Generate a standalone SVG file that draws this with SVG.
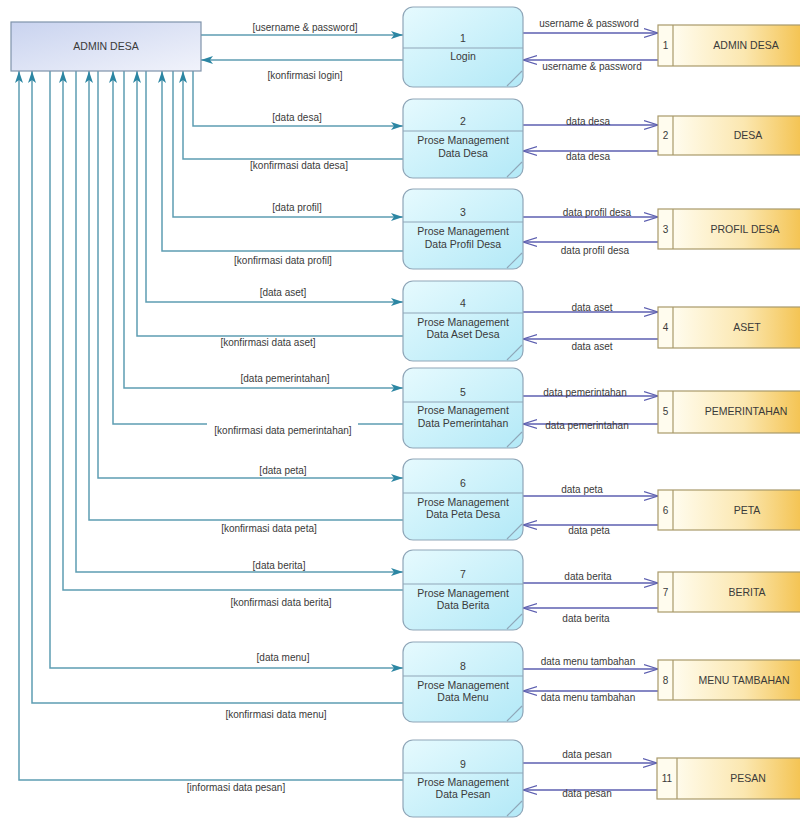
<svg xmlns="http://www.w3.org/2000/svg" width="800" height="818" viewBox="0 0 800 818">
<defs>
<linearGradient id="gAdmin" x1="0" y1="0" x2="1" y2="1">
<stop offset="0" stop-color="#c9d3ef"/>
<stop offset="1" stop-color="#f1f3fb"/>
</linearGradient>
<linearGradient id="gProc" x1="0" y1="0" x2="1" y2="1">
<stop offset="0" stop-color="#e6fafe"/>
<stop offset="1" stop-color="#b3e9f7"/>
</linearGradient>
<linearGradient id="gStore" gradientUnits="userSpaceOnUse" x1="673" y1="0" x2="815" y2="0">
<stop offset="0" stop-color="#fffcee"/>
<stop offset="0.5" stop-color="#fbe7b0"/>
<stop offset="1" stop-color="#f2bb3c"/>
</linearGradient>
<marker id="aT" markerUnits="userSpaceOnUse" markerWidth="14" markerHeight="10" refX="12" refY="5" orient="auto">
<path d="M0,1 L12,5 L0,9 L3,5 Z" fill="#2c86a3"/>
</marker>
<marker id="aP" markerUnits="userSpaceOnUse" markerWidth="16" markerHeight="12" refX="14" refY="6" orient="auto">
<path d="M0,1.5 L14,6 L0,10.5" fill="none" stroke="#5d5fb0" stroke-width="1.3"/>
</marker>
</defs>
<style>
text{font-family:"Liberation Sans",Arial,sans-serif;fill:#3a3a3a;}
.lbl{font-size:10px;text-anchor:middle;}
.pt{font-size:10.5px;text-anchor:middle;}
.st{font-size:10.5px;text-anchor:middle;}
.sn{font-size:10px;text-anchor:middle;}
.proc{fill:url(#gProc);stroke:#8fa6b8;stroke-width:1.2;}
.div{stroke:#8fa6b8;stroke-width:1.2;}
.store{fill:url(#gStore);stroke:#a8996a;stroke-width:1.2;}
.tl{fill:none;stroke:#5e9db2;stroke-width:1.5;}
.pl{fill:none;stroke:#5d5fb0;stroke-width:1.5;}
</style>
<rect width="800" height="818" fill="#ffffff"/>

<g id="connectors">
<!-- admin <-> processes -->
<path class="tl" d="M201,35 H403" marker-end="url(#aT)"/>
<path class="tl" d="M403,60 H201" marker-end="url(#aT)"/>
<path class="tl" d="M193,71 V126 H403" marker-end="url(#aT)"/>
<path class="tl" d="M403,159 H183 V71" marker-end="url(#aT)"/>
<path class="tl" d="M173,71 V217 H403" marker-end="url(#aT)"/>
<path class="tl" d="M403,251 H162 V71" marker-end="url(#aT)"/>
<path class="tl" d="M146,71 V302 H403" marker-end="url(#aT)"/>
<path class="tl" d="M403,336 H137 V71" marker-end="url(#aT)"/>
<path class="tl" d="M124,71 V388 H403" marker-end="url(#aT)"/>
<path class="tl" d="M403,424 H113 V71" marker-end="url(#aT)"/>
<path class="tl" d="M98,71 V478 H403" marker-end="url(#aT)"/>
<path class="tl" d="M403,520 H89 V71" marker-end="url(#aT)"/>
<path class="tl" d="M76,71 V572 H403" marker-end="url(#aT)"/>
<path class="tl" d="M403,590 H63 V71" marker-end="url(#aT)"/>
<path class="tl" d="M50,71 V668 H403" marker-end="url(#aT)"/>
<path class="tl" d="M403,703 H32 V71" marker-end="url(#aT)"/>
<path class="tl" d="M403,780 H19 V71" marker-end="url(#aT)"/>
<!-- processes <-> stores -->
<path class="pl" d="M523,33 H658" marker-end="url(#aP)"/>
<path class="pl" d="M658,60 H523" marker-end="url(#aP)"/>
<path class="pl" d="M523,125 H658" marker-end="url(#aP)"/>
<path class="pl" d="M658,151 H523" marker-end="url(#aP)"/>
<path class="pl" d="M523,217 H658" marker-end="url(#aP)"/>
<path class="pl" d="M658,242 H523" marker-end="url(#aP)"/>
<path class="pl" d="M523,312 H658" marker-end="url(#aP)"/>
<path class="pl" d="M658,339 H523" marker-end="url(#aP)"/>
<path class="pl" d="M523,396 H658" marker-end="url(#aP)"/>
<path class="pl" d="M658,424 H523" marker-end="url(#aP)"/>
<path class="pl" d="M523,496 H658" marker-end="url(#aP)"/>
<path class="pl" d="M658,525 H523" marker-end="url(#aP)"/>
<path class="pl" d="M523,583 H658" marker-end="url(#aP)"/>
<path class="pl" d="M658,608 H523" marker-end="url(#aP)"/>
<path class="pl" d="M523,669 H658" marker-end="url(#aP)"/>
<path class="pl" d="M658,691 H523" marker-end="url(#aP)"/>
<path class="pl" d="M523,763 H657" marker-end="url(#aP)"/>
<path class="pl" d="M657,790 H523" marker-end="url(#aP)"/>

<!-- labels admin side -->
<text class="lbl" x="305" y="31">[username &amp; password]</text>
<text class="lbl" x="305" y="79">[konfirmasi login]</text>
<text class="lbl" x="297" y="121">[data desa]</text>
<text class="lbl" x="299" y="169">[konfirmasi data desa]</text>
<text class="lbl" x="297" y="211">[data profil]</text>
<text class="lbl" x="283" y="264">[konfirmasi data profil]</text>
<text class="lbl" x="283" y="296">[data aset]</text>
<text class="lbl" x="268" y="346">[konfirmasi data aset]</text>
<text class="lbl" x="285" y="382">[data pemerintahan]</text>
<rect x="207" y="422" width="151" height="16" fill="#ffffff"/>
<text class="lbl" x="283" y="434">[konfirmasi data pemerintahan]</text>
<text class="lbl" x="283" y="474">[data peta]</text>
<text class="lbl" x="269" y="532">[konfirmasi data peta]</text>
<text class="lbl" x="279" y="569">[data berita]</text>
<text class="lbl" x="281" y="606">[konfirmasi data berita]</text>
<text class="lbl" x="283" y="661">[data menu]</text>
<text class="lbl" x="276" y="718">[konfirmasi data menu]</text>
<text class="lbl" x="236" y="791">[informasi data pesan]</text>

<!-- labels store side -->
<text class="lbl" x="589" y="27">username &amp; password</text>
<text class="lbl" x="592" y="70">username &amp; password</text>
<text class="lbl" x="588" y="125">data desa</text>
<text class="lbl" x="588" y="160">data desa</text>
<text class="lbl" x="597" y="216">data profil desa</text>
<text class="lbl" x="595" y="254">data profil desa</text>
<text class="lbl" x="592" y="311">data aset</text>
<text class="lbl" x="592" y="350">data aset</text>
<text class="lbl" x="585" y="396">data pemerintahan</text>
<text class="lbl" x="587" y="429">data pemerintahan</text>
<text class="lbl" x="582" y="493">data peta</text>
<text class="lbl" x="589" y="534">data peta</text>
<text class="lbl" x="588" y="580">data berita</text>
<text class="lbl" x="586" y="622">data berita</text>
<text class="lbl" x="588" y="665">data menu tambahan</text>
<text class="lbl" x="588" y="701">data menu tambahan</text>
<text class="lbl" x="587" y="758">data pesan</text>
<text class="lbl" x="587" y="797">data pesan</text>
</g>

<g id="admin-desa">
<rect x="11" y="22" width="190" height="49" fill="url(#gAdmin)" stroke="#7f93ab" stroke-width="1.2"/>
<text class="pt" x="106" y="50">ADMIN DESA</text>
</g>

<g id="p1">
<rect class="proc" x="403" y="7" width="120" height="80" rx="10"/>
<line class="div" x1="403" y1="48" x2="523" y2="48"/>
<line class="div" x1="507" y1="86" x2="522" y2="71"/>
<text class="pt" x="463" y="42">1</text>
<text class="pt" x="463" y="60">Login</text>
</g>
<g id="p2">
<rect class="proc" x="403" y="99" width="120" height="79" rx="10"/>
<line class="div" x1="403" y1="131" x2="523" y2="131"/>
<line class="div" x1="507" y1="177" x2="522" y2="162"/>
<text class="pt" x="463" y="125">2</text>
<text class="pt" x="463" y="144">Prose Management</text>
<text class="pt" x="463" y="157">Data Desa</text>
</g>
<g id="p3">
<rect class="proc" x="403" y="189" width="120" height="80" rx="10"/>
<line class="div" x1="403" y1="222" x2="523" y2="222"/>
<line class="div" x1="507" y1="268" x2="522" y2="253"/>
<text class="pt" x="463" y="216">3</text>
<text class="pt" x="463" y="235">Prose Management</text>
<text class="pt" x="463" y="248">Data Profil Desa</text>
</g>
<g id="p4">
<rect class="proc" x="403" y="281" width="120" height="80" rx="10"/>
<line class="div" x1="403" y1="313" x2="523" y2="313"/>
<line class="div" x1="507" y1="360" x2="522" y2="345"/>
<text class="pt" x="463" y="307">4</text>
<text class="pt" x="463" y="326">Prose Management</text>
<text class="pt" x="463" y="338">Data Aset Desa</text>
</g>
<g id="p5">
<rect class="proc" x="403" y="368" width="120" height="80" rx="10"/>
<line class="div" x1="403" y1="402" x2="523" y2="402"/>
<line class="div" x1="507" y1="447" x2="522" y2="432"/>
<text class="pt" x="463" y="396">5</text>
<text class="pt" x="463" y="414">Prose Management</text>
<text class="pt" x="463" y="427">Data Pemerintahan</text>
</g>
<g id="p6">
<rect class="proc" x="403" y="459" width="120" height="81" rx="10"/>
<line class="div" x1="403" y1="493" x2="523" y2="493"/>
<line class="div" x1="507" y1="539" x2="522" y2="524"/>
<text class="pt" x="463" y="487">6</text>
<text class="pt" x="463" y="506">Prose Management</text>
<text class="pt" x="463" y="518">Data Peta Desa</text>
</g>
<g id="p7">
<rect class="proc" x="403" y="550" width="120" height="80" rx="10"/>
<line class="div" x1="403" y1="584" x2="523" y2="584"/>
<line class="div" x1="507" y1="629" x2="522" y2="614"/>
<text class="pt" x="463" y="578">7</text>
<text class="pt" x="463" y="597">Prose Management</text>
<text class="pt" x="463" y="609">Data Berita</text>
</g>
<g id="p8">
<rect class="proc" x="403" y="642" width="120" height="80" rx="10"/>
<line class="div" x1="403" y1="676" x2="523" y2="676"/>
<line class="div" x1="507" y1="721" x2="522" y2="706"/>
<text class="pt" x="463" y="670">8</text>
<text class="pt" x="463" y="689">Prose Management</text>
<text class="pt" x="463" y="701">Data Menu</text>
</g>
<g id="p9">
<rect class="proc" x="403" y="740" width="120" height="77" rx="10"/>
<line class="div" x1="403" y1="773" x2="523" y2="773"/>
<line class="div" x1="507" y1="816" x2="522" y2="801"/>
<text class="pt" x="463" y="768">9</text>
<text class="pt" x="463" y="786">Prose Management</text>
<text class="pt" x="463" y="798">Data Pesan</text>
</g>

<g id="s1">
<rect class="store" x="658" y="25" width="172" height="41"/>
<line class="div" x1="673" y1="25" x2="673" y2="66" style="stroke:#a8996a"/>
<text class="sn" x="665.5" y="49">1</text>
<text class="st" x="746" y="49">ADMIN DESA</text>
</g>
<g id="s2">
<rect class="store" x="658" y="116" width="172" height="39"/>
<line class="div" x1="673" y1="116" x2="673" y2="155" style="stroke:#a8996a"/>
<text class="sn" x="665.5" y="139">2</text>
<text class="st" x="748" y="139">DESA</text>
</g>
<g id="s3">
<rect class="store" x="658" y="209" width="172" height="40"/>
<line class="div" x1="673" y1="209" x2="673" y2="249" style="stroke:#a8996a"/>
<text class="sn" x="665.5" y="233">3</text>
<text class="st" x="745" y="233">PROFIL DESA</text>
</g>
<g id="s4">
<rect class="store" x="658" y="307" width="172" height="41"/>
<line class="div" x1="673" y1="307" x2="673" y2="348" style="stroke:#a8996a"/>
<text class="sn" x="665.5" y="331">4</text>
<text class="st" x="747" y="331">ASET</text>
</g>
<g id="s5">
<rect class="store" x="658" y="391" width="172" height="42"/>
<line class="div" x1="673" y1="391" x2="673" y2="433" style="stroke:#a8996a"/>
<text class="sn" x="665.5" y="415">5</text>
<text class="st" x="746" y="415">PEMERINTAHAN</text>
</g>
<g id="s6">
<rect class="store" x="658" y="490" width="172" height="40"/>
<line class="div" x1="673" y1="490" x2="673" y2="530" style="stroke:#a8996a"/>
<text class="sn" x="665.5" y="514">6</text>
<text class="st" x="747" y="514">PETA</text>
</g>
<g id="s7">
<rect class="store" x="658" y="572" width="172" height="40"/>
<line class="div" x1="673" y1="572" x2="673" y2="612" style="stroke:#a8996a"/>
<text class="sn" x="665.5" y="596">7</text>
<text class="st" x="747" y="596">BERITA</text>
</g>
<g id="s8">
<rect class="store" x="658" y="660" width="172" height="40"/>
<line class="div" x1="673" y1="660" x2="673" y2="700" style="stroke:#a8996a"/>
<text class="sn" x="665.5" y="684">8</text>
<text class="st" x="744" y="684">MENU TAMBAHAN</text>
</g>
<g id="s11">
<rect class="store" x="657" y="758" width="173" height="41"/>
<line class="div" x1="677" y1="758" x2="677" y2="799" style="stroke:#a8996a"/>
<text class="sn" x="667" y="782">11</text>
<text class="st" x="748" y="782">PESAN</text>
</g>
</svg>
